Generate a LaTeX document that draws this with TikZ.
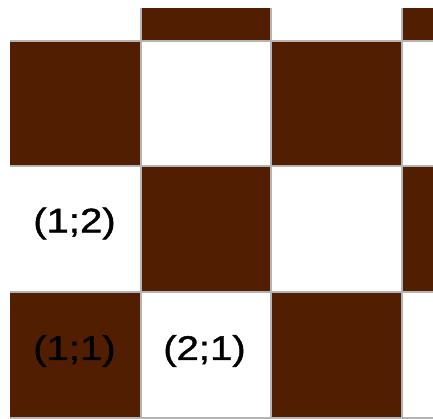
\documentclass[tikz,border=0pt]{standalone}
\usepackage{fontspec}
\setmainfont{Liberation Sans}
\newfontfamily\lblfont[FakeBold=1.2,FakeStretch=1.18]{Liberation Sans}
\definecolor{brownsq}{HTML}{521E02}
\definecolor{gridgray}{HTML}{B4B4B4}
\begin{document}
\begin{tikzpicture}[x=1pt,y=-1pt,
  gridline/.style={draw=gridgray,line width=2pt},
  lbl/.style={font=\lblfont\fontsize{34}{40}\selectfont,text=black,inner sep=0pt}]
\useasboundingbox (0,0) rectangle (433,419);
\begin{scope}
\clip (10,8) rectangle (433,419);
% top partial row
\fill[brownsq] (140.5,8) rectangle (271,41);
\fill[brownsq] (401.5,8) rectangle (433,41);
% row 1
\fill[brownsq] (10,41) rectangle (140.5,166.5);
\fill[brownsq] (271,41) rectangle (401.5,166.5);
% row 2
\fill[brownsq] (140.5,166.5) rectangle (271,292);
\fill[brownsq] (401.5,166.5) rectangle (433,292);
% row 3
\fill[brownsq] (10,292) rectangle (140.5,417);
\fill[brownsq] (271,292) rectangle (401.5,417);
% grid
\foreach \x in {140.5,271,401.5} \draw[gridline] (\x,8) -- (\x,419);
\foreach \y in {41,166.5,292,417.5} \draw[gridline] (10,\y) -- (433,\y);
\end{scope}
\node[lbl] (a12) at (74.5,223.5) {(1;2)};
\node[lbl] (a11) at (74.5,351) {(1;1)};
\node[lbl] (a21) at (204.5,351) {(2;1)};
\end{tikzpicture}
\end{document}
